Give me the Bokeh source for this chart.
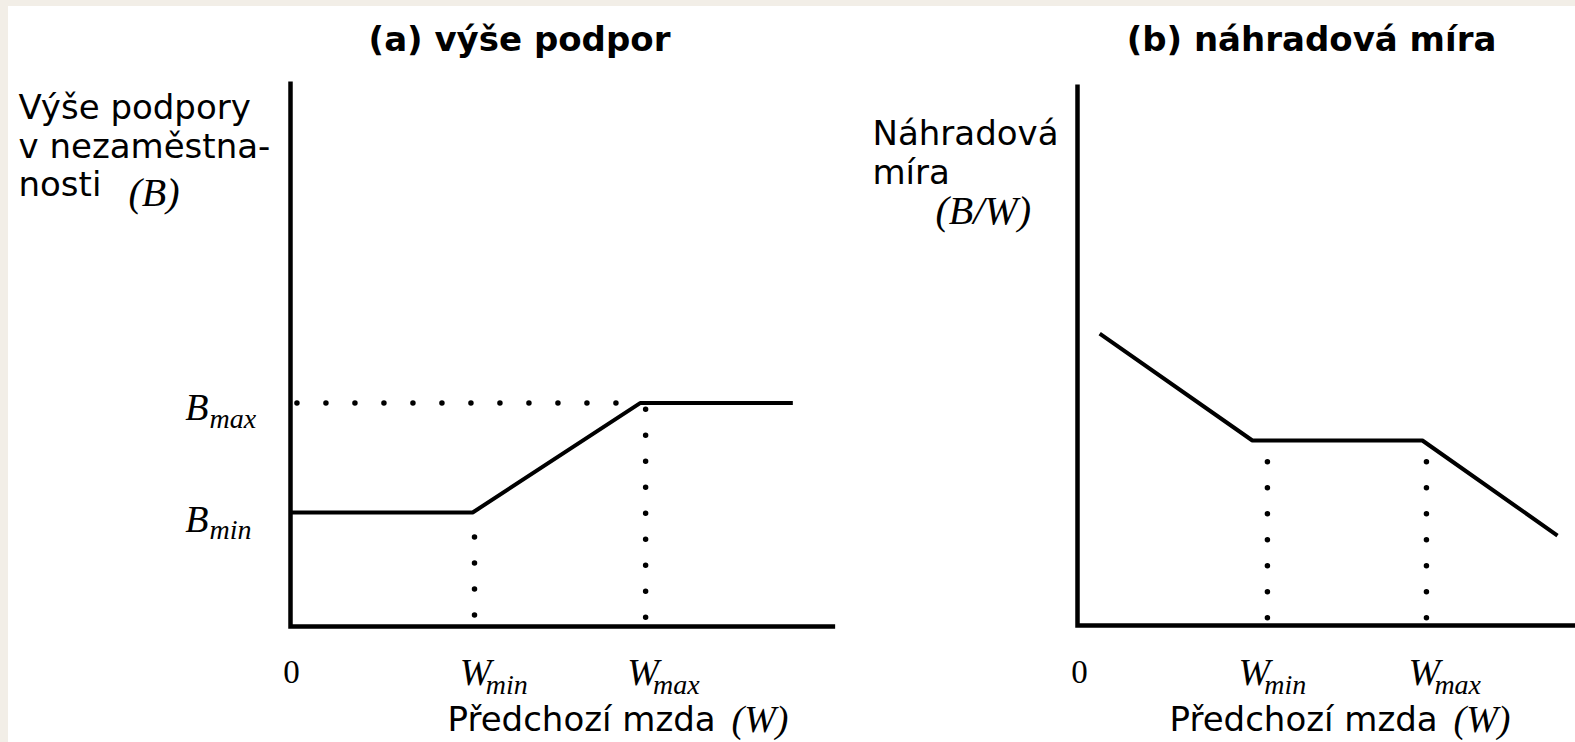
from bokeh.plotting import figure
from bokeh.models import Range1d, Label
from bokeh.layouts import row
from bokeh.embed import file_html
from bokeh.resources import INLINE

# ---------------- data ----------------
# panel (a): benefit level B vs previous wage W
a_W = [0.0, 0.99, 1.90, 2.73]
a_B = [1.0, 1.0, 1.96, 1.96]
a_Bmax_guide_W = [0.035, 1.79]
a_drop_W = [1.0, 1.93]
a_drop_top = [0.785, 1.905]
a_drop_bottom = [0.09, 0.075]
a_axis_W = [0.0, 0.0, 2.96]
a_axis_B = [4.78, 0.0, 0.0]
a_tick_W = [0.99, 1.90]

# panel (b): replacement rate B/W vs previous wage W
b_W = [0.115, 0.906, 1.787, 2.487]
b_R = [1.578, 1.0, 1.0, 0.486]
b_drop_W = [0.984, 1.808]
b_drop_top = [0.885, 0.885]
b_drop_bottom = [0.04, 0.04]
b_axis_W = [0.0, 0.0, 2.75]
b_axis_R = [2.924, 0.0, 0.0]
b_tick_W = [0.906, 1.787]

tick_subs = ["min", "max"]

SANS = "DejaVu Sans"
SERIF = "Liberation Serif"
BG = "#f2eee7"
PAGE_H = 742


def make_fig(w, xr, yr):
    p = figure(width=w, height=736, x_range=Range1d(*xr), y_range=Range1d(*yr),
               x_axis_type=None, y_axis_type=None, toolbar_location=None,
               output_backend="svg", min_border=0)
    p.grid.visible = False
    p.outline_line_color = None
    p.background_fill_color = "white"
    p.border_fill_color = "white"
    return p


def lab(p, text, x, y, xu="screen", yu="screen", align="left", font=SANS,
        size=34, style="normal", xo=0, yo=0):
    # screen y given as distance from the top of the page
    if yu == "screen":
        y = PAGE_H - y
    p.add_layout(Label(x=x, y=y, x_units=xu, y_units=yu, text=text,
                       text_align=align, text_baseline="alphabetic",
                       text_font=font, text_font_size=f"{size}px",
                       text_font_style=style, text_color="black",
                       x_offset=xo, y_offset=yo))


# ---------------- panel (a) ----------------
pa = make_fig(845, (-1.53261, 3.05978), (-1.01754, 5.43860))
pa.line(a_axis_W, a_axis_B, line_width=4.5, color="black", line_join="miter")
pa.line(a_W, a_B, line_width=4, color="black")
pa.line(a_Bmax_guide_W, [a_B[-1], a_B[-1]], line_width=5.5, color="black",
        line_dash="0 29", line_cap="round")
for xw, yt, yb in zip(a_drop_W, a_drop_top, a_drop_bottom):
    pa.line([xw, xw], [yt, yb], line_width=5.5, color="black",
            line_dash="0 26", line_cap="round")

lab(pa, "(a) výše podpor", 511, 38, align="center", size=34, style="bold")
lab(pa, "Výše podpory", 10, 106)
lab(pa, "v nezaměstna-", 10, 145)
lab(pa, "nosti", 10, 183)
lab(pa, "(B)", 120, 192, font=SERIF, size=40, style="italic")

for bval, sub, yo1, yo2 in [(a_B[-1], "max", -4, -15), (a_B[0], "min", -6, -17)]:
    lab(pa, "B", 200, bval, yu="data", align="right", font=SERIF, size=38,
        style="italic", yo=yo1)
    lab(pa, sub, 201, bval, yu="data", align="left", font=SERIF, size=28,
        style="italic", yo=yo2)

lab(pa, "0", 0.0, 671, xu="data", align="center", font=SERIF, size=33, xo=1)
for tw, sub in zip(a_tick_W, tick_subs):
    lab(pa, "W", tw, 671, xu="data", align="center", font=SERIF, size=38,
        style="italic", xo=3)
    lab(pa, sub, tw, 684, xu="data", align="left", font=SERIF, size=28,
        style="italic", xo=13)

lab(pa, "Předchozí mzda", 439, 718)
lab(pa, "(W)", 723, 718, font=SERIF, size=38, style="italic")

# ---------------- panel (b) ----------------
pb = make_fig(722, (-1.16062, 2.58031), (-0.63243, 3.34595))
pb.line(b_axis_W, b_axis_R, line_width=4.5, color="black", line_join="miter")
pb.line(b_W, b_R, line_width=4, color="black")
for xw, yt, yb in zip(b_drop_W, b_drop_top, b_drop_bottom):
    pb.line([xw, xw], [yt, yb], line_width=5.5, color="black",
            line_dash="0 26", line_cap="round")

lab(pb, "(b) náhradová míra", 458, 38, align="center", size=34, style="bold")
lab(pb, "Náhradová", 19, 132)
lab(pb, "míra", 19, 171)
lab(pb, "(B/W)", 82, 210, font=SERIF, size=40, style="italic")

lab(pb, "0", 0.0, 671, xu="data", align="center", font=SERIF, size=33, xo=2)
for tw, sub in zip(b_tick_W, tick_subs):
    lab(pb, "W", tw, 671, xu="data", align="center", font=SERIF, size=38,
        style="italic", xo=2)
    lab(pb, sub, tw, 684, xu="data", align="left", font=SERIF, size=28,
        style="italic", xo=12)

lab(pb, "Předchozí mzda", 316, 718)
lab(pb, "(W)", 600, 718, font=SERIF, size=38, style="italic")

layout = row(pa, pb, spacing=0)

html = file_html(layout, INLINE, title="Podpora v nezaměstnanosti")
style = ("<style>html,body{margin:0;padding:0;background:white;overflow:hidden;}"
         "body{border-left:8px solid %s;border-top:6px solid %s;}</style>" % (BG, BG))
html = html.replace("</head>", style + "</head>", 1)
open("out.html", "w").write(html)
